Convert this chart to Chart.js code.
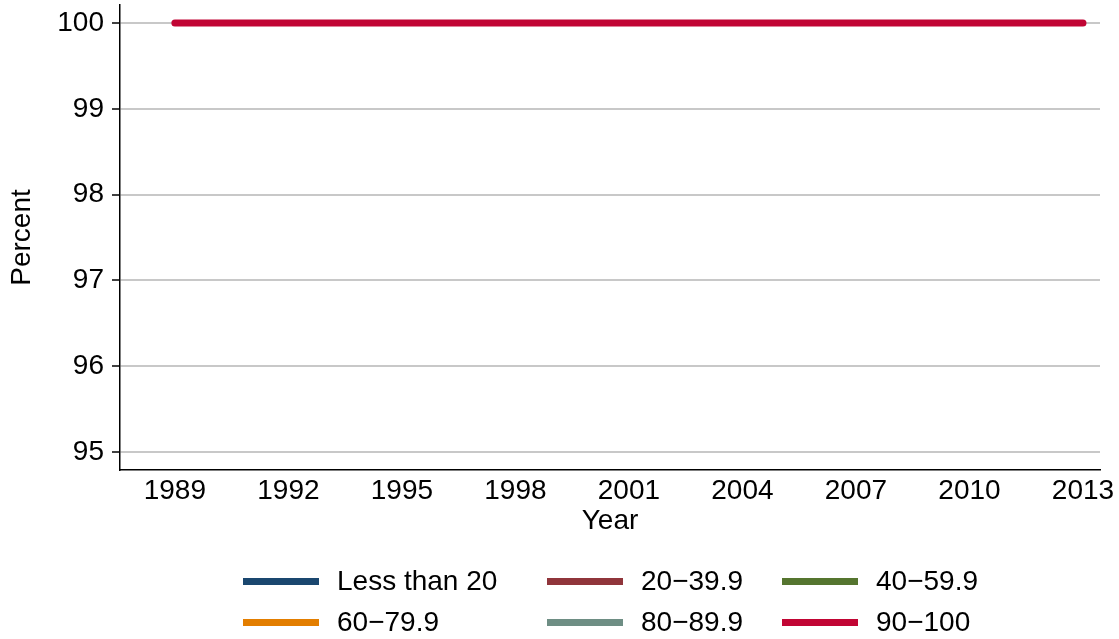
<!DOCTYPE html>
<html>
<head>
<meta charset="utf-8">
<script src="https://cdn.jsdelivr.net/npm/chart.js@4/dist/chart.umd.min.js"></script>
<style>
  html, body { margin: 0; padding: 0; background: #fff; }
  #wrap { position: relative; width: 1119px; height: 639px; }
  #legend { position: absolute; left: 0; top: 0; width: 1119px; height: 639px; pointer-events: none;
            font-family: "Liberation Sans", Arial, sans-serif; font-size: 28px; color: #000; }
  .item { position: absolute; height: 34px; display: flex; align-items: center; white-space: nowrap; }
  .swatch { display: inline-block; width: 76px; height: 7px; margin-right: 18px; }
</style>
</head>
<body>
<div id="wrap">
  <canvas id="chart" width="1119" height="639"></canvas>
  <div id="legend"></div>
</div>
<script>
// Percent by group over time

const years = [1989, 1990, 1991, 1992, 1993, 1994, 1995, 1996, 1997, 1998, 1999, 2000,
               2001, 2002, 2003, 2004, 2005, 2006, 2007, 2008, 2009, 2010, 2011, 2012, 2013];

const groupLabels = ["Less than 20", "20\u221239.9", "40\u221259.9", "60\u221279.9", "80\u221289.9", "90\u2212100"];
const groupColors = ["#1a476f", "#90353b", "#55752f", "#e37e00", "#6e8e84", "#c10534"];

// only the top group shows up inside the plotted range
const lessThan20 = [];
const from20to39 = [];
const from40to59 = [];
const from60to79 = [];
const from80to89 = [];
const from90to100 = [100, 100, 100, 100, 100, 100, 100, 100, 100, 100, 100, 100,
                     100, 100, 100, 100, 100, 100, 100, 100, 100, 100, 100, 100, 100];

const seriesValues = [lessThan20, from20to39, from40to59, from60to79, from80to89, from90to100];

const xTicks = [1989, 1992, 1995, 1998, 2001, 2004, 2007, 2010, 2013];
const yTicks = [95, 96, 97, 98, 99, 100];

Chart.defaults.font.family = "'Liberation Sans', Arial, sans-serif";
Chart.defaults.font.size = 28;
Chart.defaults.color = "#000";

function buildDatasets() {
  return groupLabels.map((label, i) => ({
    label: label,
    data: seriesValues[i].map((v, k) => ({ x: years[k], y: v })),
    borderColor: groupColors[i],
    backgroundColor: groupColors[i],
    borderWidth: 7,
    borderCapStyle: "round",
    borderJoinStyle: "round",
    pointRadius: 0,
    fill: false,
    tension: 0,
  }));
}

function renderChart() {
  const ctx = document.getElementById("chart");

  new Chart(ctx, {
    type: "line",
    data: { datasets: buildDatasets() },
    options: {
      responsive: false,
      animation: false,
      layout: { padding: { top: 5, right: 19, left: 0, bottom: 99 } },
      plugins: {
        legend: { display: false },
        tooltip: { enabled: false },
      },
      scales: {
        x: {
          type: "linear",
          min: 1987.55,
          max: 2013.45,
          afterFit: s => { s.height = 70; },
          afterBuildTicks: s => { s.ticks = xTicks.map(v => ({ value: v })); },
          ticks: { stepSize: 3, includeBounds: false, padding: 4, maxRotation: 0, autoSkip: false,
                   callback: v => String(v) },
          grid: { drawOnChartArea: false, drawTicks: false },
          border: { color: "#000", width: 1.5 },
          title: { display: true, text: "Year", padding: { top: 0, bottom: 2 } },
        },
        y: {
          min: 94.79,
          max: 100.21,
          afterFit: s => { s.width = 120; s.paddingTop = 0; s.paddingBottom = 0; },
          afterBuildTicks: s => { s.ticks = yTicks.map(v => ({ value: v })); },
          ticks: { stepSize: 1, includeBounds: false, padding: 8, callback: v => String(v) },
          grid: { color: "#c8c8c8", lineWidth: 2, tickColor: "#000", tickWidth: 1.5, tickLength: 8 },
          border: { color: "#000", width: 1.5 },
          title: { display: true, text: "Percent", padding: { top: 5, bottom: 0 } },
        },
      },
    },
  });
}

// Legend laid out as a 3 x 2 grid like the original
function renderLegend() {
  const box = document.getElementById("legend");
  const colLeft = [243, 547, 782];
  const rowTop = [564, 605];
  groupLabels.forEach((label, i) => {
    const item = document.createElement("div");
    item.className = "item";
    item.style.left = colLeft[i % 3] + "px";
    item.style.top = rowTop[Math.floor(i / 3)] + "px";
    const sw = document.createElement("span");
    sw.className = "swatch";
    sw.style.background = groupColors[i];
    const txt = document.createElement("span");
    txt.textContent = label;
    item.appendChild(sw);
    item.appendChild(txt);
    box.appendChild(item);
  });
}

renderChart();
renderLegend();
</script>
</body>
</html>
